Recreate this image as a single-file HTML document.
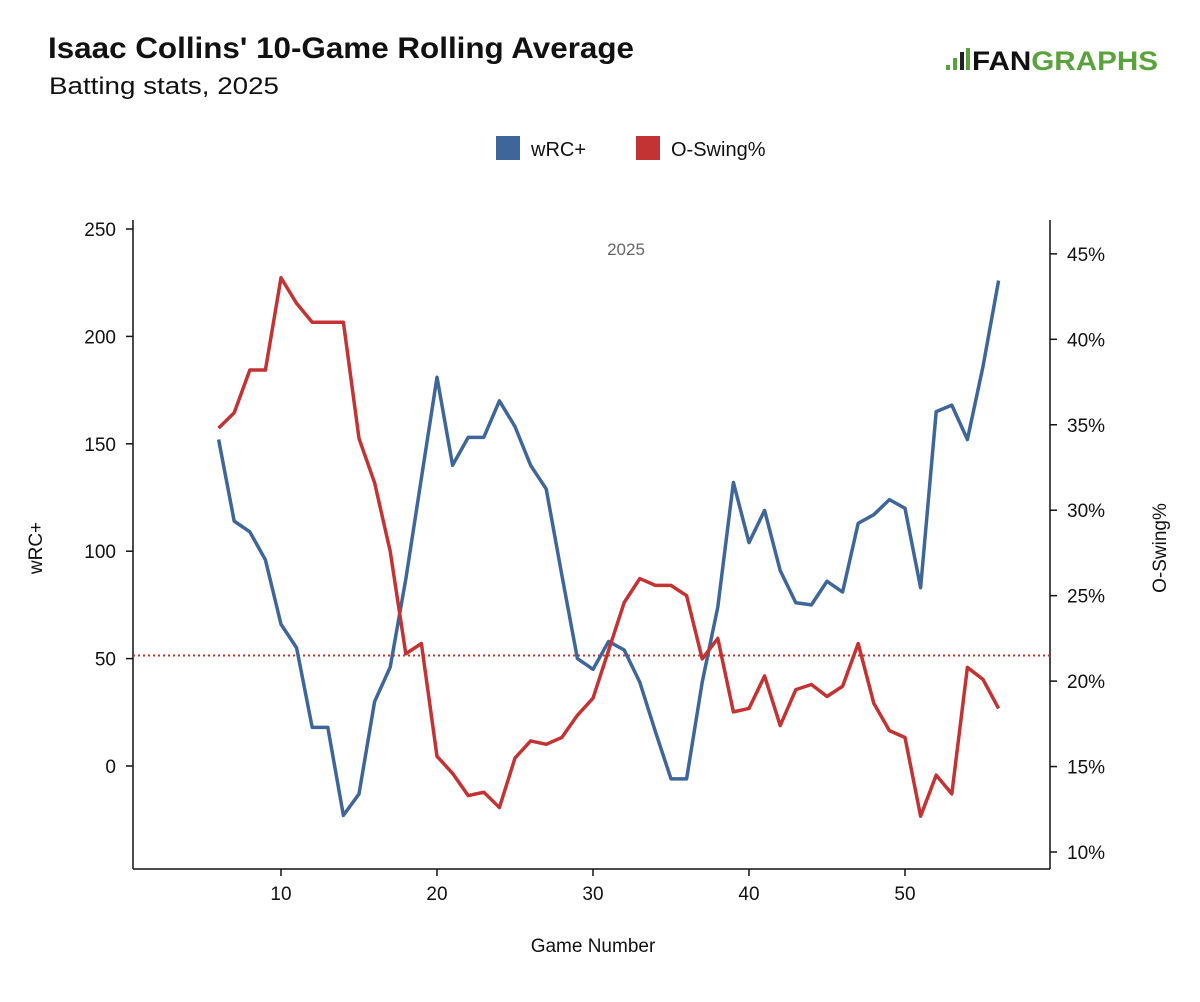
<!DOCTYPE html>
<html><head><meta charset="utf-8"><style>
html,body{margin:0;padding:0;background:#fff;}
svg{display:block;font-family:"Liberation Sans",sans-serif;}
</style></head><body>
<svg id="chart" width="1200" height="1002" viewBox="0 0 1200 1002">
<text x="48" y="58" font-size="30" font-weight="bold" fill="#111" textLength="586" lengthAdjust="spacingAndGlyphs">Isaac Collins' 10-Game Rolling Average</text>
<text x="49" y="94" font-size="24" fill="#111" textLength="230" lengthAdjust="spacingAndGlyphs">Batting stats, 2025</text>
<g>
<rect x="946" y="65" width="4" height="5" fill="#5aa33c"/><rect x="953" y="58" width="4" height="12" fill="#5aa33c"/><rect x="960" y="52" width="4" height="18" fill="#222"/><rect x="966" y="48" width="4" height="22" fill="#5aa33c"/>
<text x="972" y="70" font-size="27" font-weight="bold" fill="#111" textLength="186" lengthAdjust="spacingAndGlyphs">FAN<tspan fill="#5aa33c">GRAPHS</tspan></text>
</g>
<g>
<rect x="496" y="136" width="24" height="24" fill="#3f6699"/>
<text x="531" y="156" font-size="20" fill="#111">wRC+</text>
<rect x="636" y="136" width="24" height="24" fill="#c43333"/>
<text x="671" y="156" font-size="20" fill="#111">O-Swing%</text>
</g>
<text x="626" y="255" font-size="17" fill="#666" text-anchor="middle">2025</text>
<line x1="133" y1="220" x2="133" y2="869" stroke="#111" stroke-width="1.5"/>
<line x1="1050" y1="220" x2="1050" y2="869" stroke="#111" stroke-width="1.5"/>
<line x1="133" y1="869" x2="1050" y2="869" stroke="#111" stroke-width="1.5"/>
<g id="ticks"></g>
<g id="series"></g>
<text x="593" y="952" font-size="19" fill="#111" text-anchor="middle">Game Number</text>
<text transform="translate(42,548) rotate(-90)" font-size="19" fill="#111" text-anchor="middle">wRC+</text>
<text transform="translate(1166,548) rotate(-90)" font-size="19" fill="#111" text-anchor="middle">O-Swing%</text>
</svg>
<script>
const games = [6,7,8,9,10,11,12,13,14,15,16,17,18,19,20,21,22,23,24,25,26,27,28,29,30,31,32,33,34,35,36,37,38,39,40,41,42,43,44,45,46,47,48,49,50,51,52,53,54,55,56];
const wrcValues = [152,114,109,96,66,55,18,18,-23,-13,30,46,87,134,181,140,153,153,170,158,140,129,89,50,45,58,54,39,16,-6,-6,39,74,132,104,119,91,76,75,86,81,113,117,124,120,83,165,168,152,186,226];
const oswingValues = [34.8,35.7,38.2,38.2,43.6,42.1,41.0,41.0,41.0,34.2,31.6,27.6,21.6,22.2,15.6,14.6,13.3,13.5,12.6,15.5,16.5,16.3,16.7,18.0,19.0,21.8,24.6,26.0,25.6,25.6,25.0,21.3,22.5,18.2,18.4,20.3,17.4,19.5,19.8,19.1,19.7,22.2,18.7,17.1,16.7,12.1,14.5,13.4,20.8,20.1,18.4];
const oswingAverage = [21.5];
const xTicks = [10,20,30,40,50];
const leftTicks = [0,50,100,150,200,250];
const rightTicks = [10,15,20,25,30,35,40,45];

const NS="http://www.w3.org/2000/svg";
const xs = g => 281 + (g-10)*15.6;
const yl = v => 766 - v*2.148;
const yr = p => 852 - (p-10)*17.09;
function mk(tag, attrs, parent){const e=document.createElementNS(NS,tag);for(const k in attrs)e.setAttribute(k,attrs[k]);parent.appendChild(e);return e;}
const T=document.getElementById('ticks'), S=document.getElementById('series');
xTicks.forEach(t=>{
  const l=mk('line',{x1:xs(t),x2:xs(t),y1:869,y2:876,stroke:'#111','stroke-width':1.5},T);
  
  
  const tx=mk('text',{x:xs(t),y:900,'font-size':19,fill:'#111','text-anchor':'middle'},T);tx.textContent=t;
  
  
});
leftTicks.forEach(t=>{
  const l=mk('line',{x1:126,x2:133,y1:yl(t),y2:yl(t),stroke:'#111','stroke-width':1.5},T);
  
  
  const tx=mk('text',{x:116,y:yl(t)+7,'font-size':19,fill:'#111','text-anchor':'end'},T);tx.textContent=t;
  
  
});
rightTicks.forEach(t=>{
  const l=mk('line',{x1:1050,x2:1057,y1:yr(t),y2:yr(t),stroke:'#111','stroke-width':1.5},T);
  
  
  const tx=mk('text',{x:1067,y:yr(t)+7,'font-size':19,fill:'#111'},T);tx.textContent=t+'%';
  
  
});
const ref=mk('line',{x1:133,x2:1050,y1:yr(oswingAverage[0]),y2:yr(oswingAverage[0]),stroke:'#c43333','stroke-width':2,'stroke-dasharray':'2,3'},S);


const p1=mk('polyline',{points:games.map((g,i)=>xs(g)+','+yl(wrcValues[i])).join(' '),fill:'none',stroke:'#3f6699','stroke-width':3.5,'stroke-linejoin':'round'},S);


const p2=mk('polyline',{points:games.map((g,i)=>xs(g)+','+yr(oswingValues[i])).join(' '),fill:'none',stroke:'#c43333','stroke-width':3.5,'stroke-linejoin':'round'},S);


</script>
</body></html>
